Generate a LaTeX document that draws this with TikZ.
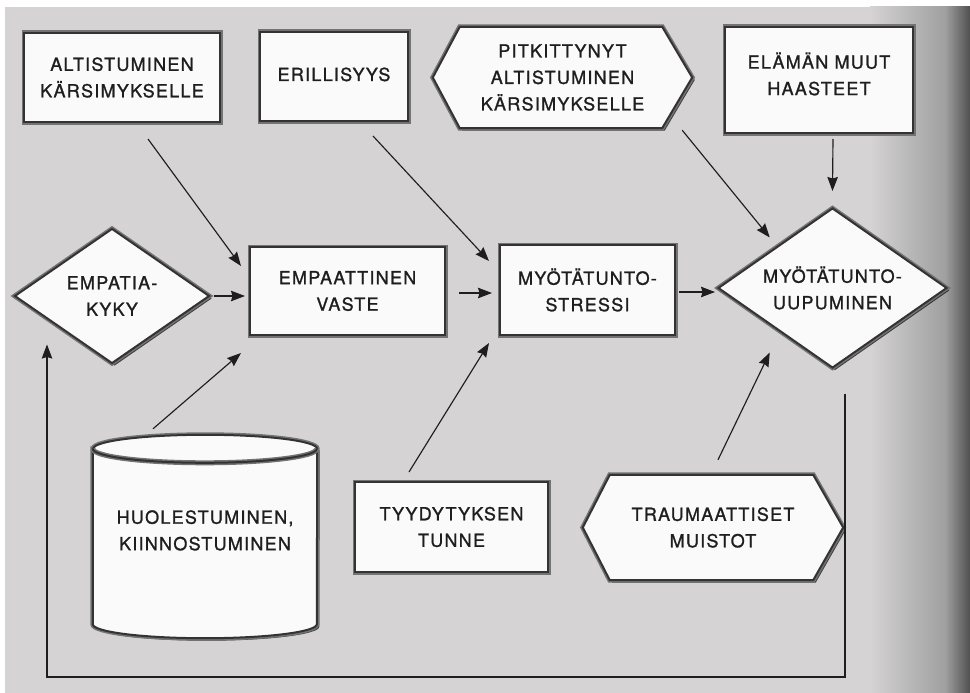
\documentclass[tikz,border=0pt]{standalone}
\usepackage{fontspec}
\newfontfamily\lbl{TeX Gyre Heros}[LetterSpace=7,FakeBold=1.2]
\usetikzlibrary{shapes.geometric,shadows,calc,arrows.meta}
\pgfdeclarelayer{bg}
\pgfdeclarelayer{shp}
\pgfsetlayers{bg,shp,main}
\definecolor{paper}{RGB}{213,211,211}
\definecolor{edgegray}{RGB}{160,160,160}
\definecolor{edgedark}{RGB}{80,80,80}
\definecolor{ink}{RGB}{30,30,30}
\definecolor{boxfill}{RGB}{250,250,250}
\tikzset{
  lab/.style={font=\lbl\fontsize{18pt}{26.5pt}\selectfont, text=ink, align=center, inner sep=0pt},
  outline/.style={draw=black!80, line width=2pt, fill=boxfill,
    drop shadow={shadow xshift=2.5pt, shadow yshift=-2.5pt, opacity=.7, fill=black},
    preaction={draw=black!55, line width=5pt}},
  boxnode/.style={lab, outline, rectangle},
  dianode/.style={lab, outline, diamond},
  plain/.style={lab, draw=none},
  arr/.style={draw=ink, line width=1.15pt, -{Stealth[length=14pt,width=10.5pt,inset=1.5pt]}}
}
\begin{document}
\begin{tikzpicture}[x=1pt,y=1pt]
\useasboundingbox (0,0) rectangle (970,-693);
\begin{pgfonlayer}{bg}
  \fill[white] (0,0) rectangle (970,-693);
  \fill[paper] (5,-7) rectangle (970,-693);
  \shade[left color=paper, right color=edgegray] (870,-7) rectangle (945,-693);
  \shade[left color=edgegray, right color=edgedark] (945,-7) rectangle (970,-693);
\end{pgfonlayer}

% rectangles
\node[boxnode, minimum width=196, minimum height=89] (alt) at (122,-77.5) {ALTISTUMINEN\\KÄRSIMYKSELLE};
\node[boxnode, minimum width=148, minimum height=89] (eri) at (334,-76.5) {ERILLISYYS\\[-22pt]\mbox{}};
\node[boxnode, minimum width=188, minimum height=106] (ela) at (819,-80) {ELÄMÄN MUUT\\HAASTEET\\[-14pt]\mbox{}};
\node[boxnode, minimum width=195, minimum height=88] (emv) at (347.5,-291) {EMPAATTINEN\\VASTE};
\node[boxnode, minimum width=175, minimum height=90] (mst) at (587.5,-290) {MYÖTÄTUNTO-\\STRESSI};
\node[boxnode, minimum width=193, minimum height=90] (tyy) at (451.5,-527) {TYYDYTYKSEN\\TUNNE};

% diamonds
\node[dianode, minimum width=195, minimum height=135, aspect=1.44] (empk) at (112,-296) {EMPATIA-\\KYKY};
\node[dianode, minimum width=229, minimum height=160, aspect=1.43] (mup) at (832.5,-288) {MYÖTÄTUNTO-\\UUPUMINEN};

% hexagons and cylinder (text nodes, outlines on layer)
\node[plain, minimum width=259, minimum height=101] (pit) at (562.5,-77.5) {PITKITTYNYT\\ALTISTUMINEN\\KÄRSIMYKSELLE};
\node[plain, minimum width=260, minimum height=105] (tra) at (713,-527.5) {TRAUMAATTISET\\MUISTOT};
\node[plain, minimum width=224, minimum height=203] (cyl) at (205,-536.5) {HUOLESTUMINEN,\\KIINNOSTUMINEN\\[-14pt]\mbox{}};

\begin{pgfonlayer}{shp}
  \path[outline] (pit.west) -- ($(pit.north west)+(27,0)$) -- ($(pit.north east)+(-30,0)$)
     -- (pit.east) -- ($(pit.south east)+(-30,0)$) -- ($(pit.south west)+(27,0)$) -- cycle;
  \path[outline] (tra.west) -- ($(tra.north west)+(27,0)$) -- ($(tra.north east)+(-30,0)$)
     -- (tra.east) -- ($(tra.south east)+(-30,0)$) -- ($(tra.south west)+(27,0)$) -- cycle;
  \path[outline] ($(cyl.north west)+(0,-14)$) -- ($(cyl.south west)+(0,14)$)
     arc[start angle=180,end angle=360,x radius=112pt,y radius=14pt]
     -- ($(cyl.north east)+(0,-14)$)
     arc[start angle=0,end angle=180,x radius=112pt,y radius=14pt] -- cycle;
  \draw[draw=black!80, line width=2pt, preaction={draw=black!55, line width=5pt}] ($(cyl.north west)+(0,-14)$)
     arc[start angle=180,end angle=360,x radius=112pt,y radius=14pt];
\end{pgfonlayer}

% connectors
\draw[arr] ($(alt.south)+(26,-16)$) -- ($(emv.north west)+(-8,-20)$);
\draw[arr] ($(eri.south)+(39,-14)$) -- ($(mst.north west)+(-10,-17)$);
\draw[arr] ($(pit.south east)+(-10,-2)$) -- ($(mup.north west)+(-5,10)$);
\draw[arr] ($(ela.south)+(14,-5)$) -- ($(mup.north)+(0,16)$);
\draw[arr] ($(empk.east)+(3,0)$) -- ($(emv.west)+(-4,-5)$);
\draw[arr] ($(emv.east)+(13,-2)$) -- ($(mst.west)+(-7,-3)$);
\draw[arr] ($(mst.east)+(3,-2)$) -- ($(mup.west)+(-2,-4)$);
\draw[arr] ($(cyl.north)+(-52,6)$) -- ($(emv.south west)+(-8,-17)$);
\draw[arr] ($(tyy.north west)+(55,9)$) -- ($(mst.south west)+(-10,-7)$);
\draw[arr] ($(tra.north)+(5,15)$) -- ($(mup.south west)+(-5,-24)$);
\draw[arr] ($(mup.south)+(12.5,-25)$) -- ++(0,-283) -| ($(empk.south)+(-65,20)$);
\end{tikzpicture}
\end{document}
